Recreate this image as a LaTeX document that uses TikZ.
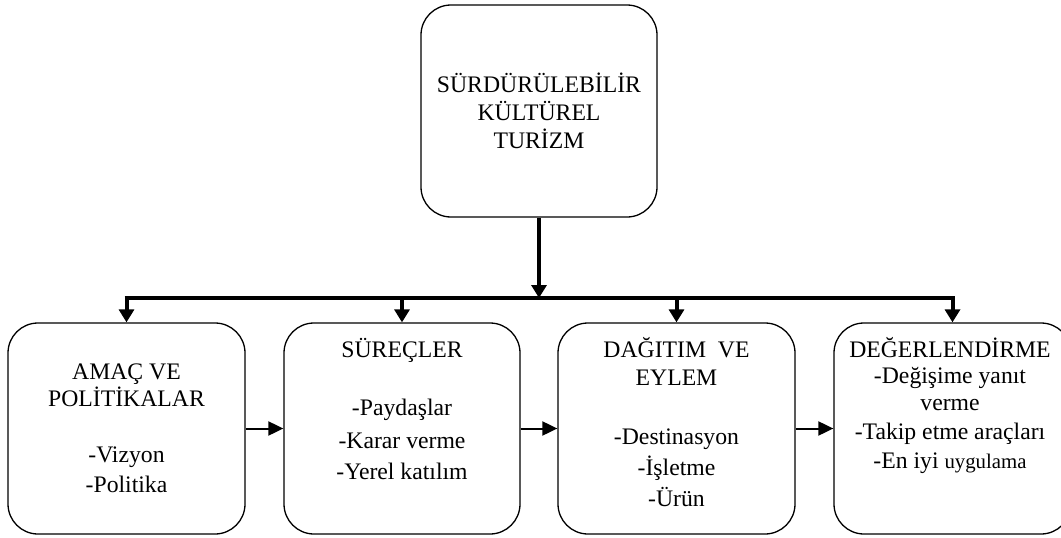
\documentclass[tikz,border=0pt]{standalone}
\usepackage{fontspec}
\setmainfont{Liberation Serif}
\usetikzlibrary{arrows.meta}
\newcommand\tp{\rule{0pt}{22pt}}
\begin{document}
\begin{tikzpicture}[x=1pt,y=-1pt,
  box/.style={draw, line width=1.3pt, rounded corners=30pt, minimum width=237pt, minimum height=211pt, inner sep=0pt},
  txt/.style={anchor=north, align=center, inner sep=0pt, font=\fontsize{23.7}{28}\selectfont},
  busline/.style={line width=4pt},
  tipd/.style={-{Triangle[length=13pt,width=15pt]}},
  harrow/.style={line width=2pt, -{Triangle[length=15pt,width=14pt]}}]
\clip (0,0) rectangle (1061,538);
% boxes
\node[box, minimum width=236pt, minimum height=212pt] (top) at (539,111) {};
\node[box] (b1) at (126.5,428.5) {};
\node[box, minimum width=236pt] (b2) at (402,428.5) {};
\node[box] (b3) at (676.5,428.5) {};
\node[box] (b4) at (952.5,428.5) {};
% texts
\node[txt] (t0) at (539,70) {\tp SÜRDÜRÜLEBİLİR\\KÜLTÜREL\\TURİZM};
\node[txt] (t1) at (126.5,357) {\tp AMAÇ VE\\[-1pt]POLİTİKALAR\\[28pt]-Vizyon\\[2pt]-Politika};
\node[txt] (t2) at (402,335) {\tp SÜREÇLER\\[30pt]-Paydaşlar\\[5pt]-Karar verme\\[3pt]-Yerel katılım};
\node[txt] (t3) at (676.5,335) {\tp DAĞITIM\ \ VE\\EYLEM\\[31pt]-Destinasyon\\[3pt]-İşletme\\[3pt]-Ürün};
\node[txt] (t4) at (950,335) {\tp DEĞERLENDİRME\\[-2pt]-Değişime yanıt\\[-1pt]verme\\[1pt]-Takip etme araçları\\[1pt]-En iyi {\fontsize{20.8}{28}\selectfont uygulama}};
% connectors
\coordinate (bus) at (539,298);
\draw[busline, tipd] (top.south) -- (bus);
\draw[busline] ([xshift=-2pt]b1.north |- bus) -- ([xshift=2pt]b4.north |- bus);
\draw[busline, tipd] (b1.north |- bus) -- (b1.north);
\draw[busline, tipd] (b2.north |- bus) -- (b2.north);
\draw[busline, tipd] (b3.north |- bus) -- (b3.north);
\draw[busline, tipd] (b4.north |- bus) -- (b4.north);
\draw[harrow] (b1.east) -- (b2.west);
\draw[harrow] (b2.east) -- (b3.west);
\draw[harrow] (b3.east) -- (b4.west);
\end{tikzpicture}
\end{document}
